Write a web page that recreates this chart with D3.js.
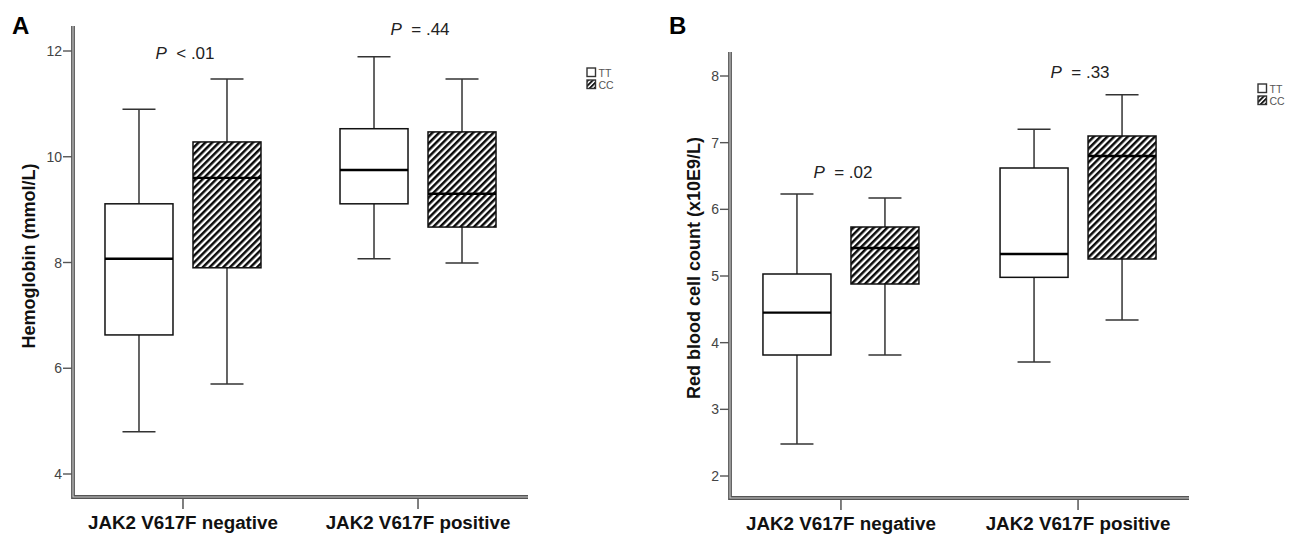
<!DOCTYPE html>
<html>
<head>
<meta charset="utf-8">
<script src="https://cdn.jsdelivr.net/npm/d3@7"></script>
<style>
  body { margin: 0; background: #fff; }
  text { font-family: "Liberation Sans", Arial, sans-serif; }
</style>
</head>
<body>
<div class="chart"></div>
<script>
//the two groups on the x axis
var groups = ["JAK2 V617F negative", "JAK2 V617F positive"];
//genotypes, one box per genotype in each group
var genotypes = ["TT", "CC"];

//hemoglobin boxes: [low whisker, q1, median, q3, high whisker], per group, TT then CC
var hbNegative = [[4.8, 6.63, 8.07, 9.11, 10.9], [5.7, 7.9, 9.6, 10.28, 11.47]];
var hbPositive = [[8.07, 9.11, 9.75, 10.53, 11.89], [7.99, 8.67, 9.3, 10.47, 11.47]];
var hbTicks = [4, 6, 8, 10, 12];
var hbPvalues = ["< .01", "= .44"];
var hbPvalueAt = [11.85, 12.3];

//red blood cell boxes, same order
var rbcNegative = [[2.48, 3.815, 4.45, 5.03, 6.23], [3.815, 4.88, 5.42, 5.735, 6.17]];
var rbcPositive = [[3.71, 4.98, 5.33, 6.62, 7.2], [4.34, 5.255, 6.8, 7.1, 7.72]];
var rbcTicks = [2, 3, 4, 5, 6, 7, 8];
var rbcPvalues = ["= .02", "= .33"];
var rbcPvalueAt = [6.47, 7.97];

var svg = d3.select(".chart").append("svg")
  .attr("width", 1289)
  .attr("height", 534);

//the diagonal hatch used for the CC boxes
var defs = svg.append("defs");
defs.append("pattern")
  .attr("id", "hatch")
  .attr("patternUnits", "userSpaceOnUse")
  .attr("width", 4.8)
  .attr("height", 4.8)
  .attr("patternTransform", "rotate(45)")
  .append("rect")
  .attr("width", 2.5)
  .attr("height", 4.8)
  .attr("fill", "#0a0a0a");
defs.append("pattern")
  .attr("id", "hatchsmall")
  .attr("patternUnits", "userSpaceOnUse")
  .attr("width", 3.4)
  .attr("height", 3.4)
  .attr("patternTransform", "rotate(45)")
  .append("rect")
  .attr("width", 1.9)
  .attr("height", 3.4)
  .attr("fill", "#111");

//draws one panel
function drawPanel(opt) {
  var g = svg.append("g");

  var y = d3.scaleLinear().domain(opt.domain).range(opt.yRange);
  var x = d3.scalePoint().domain(groups).range([opt.left, opt.right]).padding(0.468);
  var offset = d3.scalePoint().domain(genotypes).range([-44, 44]);

  //panel letter
  g.append("text")
    .attr("x", opt.left - 61)
    .attr("y", 34)
    .attr("font-size", "24px")
    .attr("font-weight", "bold")
    .text(opt.letter);

  //y axis ticks and labels
  var ticks = g.selectAll(".ytick").data(opt.ticks).enter().append("g");
  ticks.append("line")
    .attr("x1", opt.left - 10).attr("x2", opt.left)
    .attr("y1", function(d) { return y(d); })
    .attr("y2", function(d) { return y(d); })
    .attr("stroke", "#555").attr("stroke-width", 1.4);
  ticks.append("text")
    .attr("x", opt.left - 11)
    .attr("y", function(d) { return y(d); })
    .attr("dy", "0.36em")
    .attr("text-anchor", "end")
    .attr("font-size", "14px")
    .attr("fill", "#444")
    .text(function(d) { return d; });

  //y axis title
  g.append("text")
    .attr("transform", "translate(" + opt.titleX + "," + opt.titleY + ") rotate(-90)")
    .attr("text-anchor", "middle")
    .attr("font-size", "18px")
    .attr("font-weight", "bold")
    .attr("fill", "#111")
    .text(opt.title);

  //x axis category ticks and labels
  groups.forEach(function(name) {
    g.append("line")
      .attr("x1", x(name)).attr("x2", x(name))
      .attr("y1", opt.bottom).attr("y2", opt.bottom + 12)
      .attr("stroke", "#555").attr("stroke-width", 1.5);
    g.append("text")
      .attr("x", x(name))
      .attr("y", opt.bottom + 32)
      .attr("text-anchor", "middle")
      .attr("font-size", "18.8px")
      .attr("font-weight", "bold")
      .attr("fill", "#111")
      .text(name);
  });

  //boxes
  var boxW = 68, capW = 33;
  [opt.negative, opt.positive].forEach(function(boxes, gi) {
    boxes.forEach(function(b, k) {
      var cx = x(groups[gi]) + offset(genotypes[k]);
      var bg = g.append("g");
      //whiskers
      bg.append("line")
        .attr("x1", cx).attr("x2", cx)
        .attr("y1", y(b[0])).attr("y2", y(b[1]))
        .attr("stroke", "#333").attr("stroke-width", 1.5);
      bg.append("line")
        .attr("x1", cx).attr("x2", cx)
        .attr("y1", y(b[3])).attr("y2", y(b[4]))
        .attr("stroke", "#333").attr("stroke-width", 1.5);
      [b[0], b[4]].forEach(function(v) {
        bg.append("line")
          .attr("x1", cx - capW / 2).attr("x2", cx + capW / 2)
          .attr("y1", y(v)).attr("y2", y(v))
          .attr("stroke", "#333").attr("stroke-width", 1.5);
      });
      //box
      bg.append("rect")
        .attr("x", cx - boxW / 2)
        .attr("y", y(b[3]))
        .attr("width", boxW)
        .attr("height", y(b[1]) - y(b[3]))
        .attr("fill", k == 0 ? "#fff" : "url(#hatch)")
        .attr("stroke", "#111")
        .attr("stroke-width", 1.5);
      //median
      bg.append("line")
        .attr("x1", cx - boxW / 2).attr("x2", cx + boxW / 2)
        .attr("y1", y(b[2])).attr("y2", y(b[2]))
        .attr("stroke", "#000").attr("stroke-width", 2.4);
    });

    //p value above each group
    var p = g.append("text")
      .attr("x", x(groups[gi]) + 2)
      .attr("y", y(opt.pAt[gi]))
      .attr("text-anchor", "middle")
      .attr("font-size", "17px")
      .attr("fill", "#222")
      .attr("xml:space", "preserve");
    p.append("tspan").attr("font-style", "italic").text("P");
    p.append("tspan").text("  " + opt.pValues[gi]);
  });

  //double line axes
  var axisPath = "M" + opt.left + "," + opt.top + "V" + opt.bottom + "H" + opt.right;
  g.append("path").attr("d", axisPath).attr("fill", "none")
    .attr("stroke", "#555").attr("stroke-width", 3.8);
  g.append("path").attr("d", axisPath).attr("fill", "none")
    .attr("stroke", "#ccc").attr("stroke-width", 1.1);

  //legend
  var leg = g.selectAll(".legend").data(genotypes).enter().append("g")
    .attr("transform", function(d, i) { return "translate(" + opt.legendX + "," + (opt.legendY + i * 12) + ")"; });
  leg.append("rect")
    .attr("width", 8.5).attr("height", 8.5)
    .attr("fill", function(d, i) { return i == 0 ? "#fff" : "url(#hatchsmall)"; })
    .attr("stroke", "#333").attr("stroke-width", 1.4);
  leg.append("text")
    .attr("x", 11.5).attr("y", 8.5)
    .attr("font-size", "10.5px")
    .attr("fill", "#555")
    .text(function(d) { return d; });
}

drawPanel({
  letter: "A", left: 73, right: 528, top: 26, bottom: 497,
  domain: [4, 12], yRange: [474, 51], ticks: hbTicks,
  title: "Hemoglobin (mmol/L)", titleX: 35, titleY: 256,
  negative: hbNegative, positive: hbPositive,
  pValues: hbPvalues, pAt: hbPvalueAt,
  legendX: 587, legendY: 68
});

drawPanel({
  letter: "B", left: 730, right: 1189, top: 52, bottom: 498,
  domain: [2, 8], yRange: [476, 76], ticks: rbcTicks,
  title: "Red blood cell count (x10E9/L)", titleX: 700, titleY: 268,
  negative: rbcNegative, positive: rbcPositive,
  pValues: rbcPvalues, pAt: rbcPvalueAt,
  legendX: 1258, legendY: 84
});
</script>
</body>
</html>
